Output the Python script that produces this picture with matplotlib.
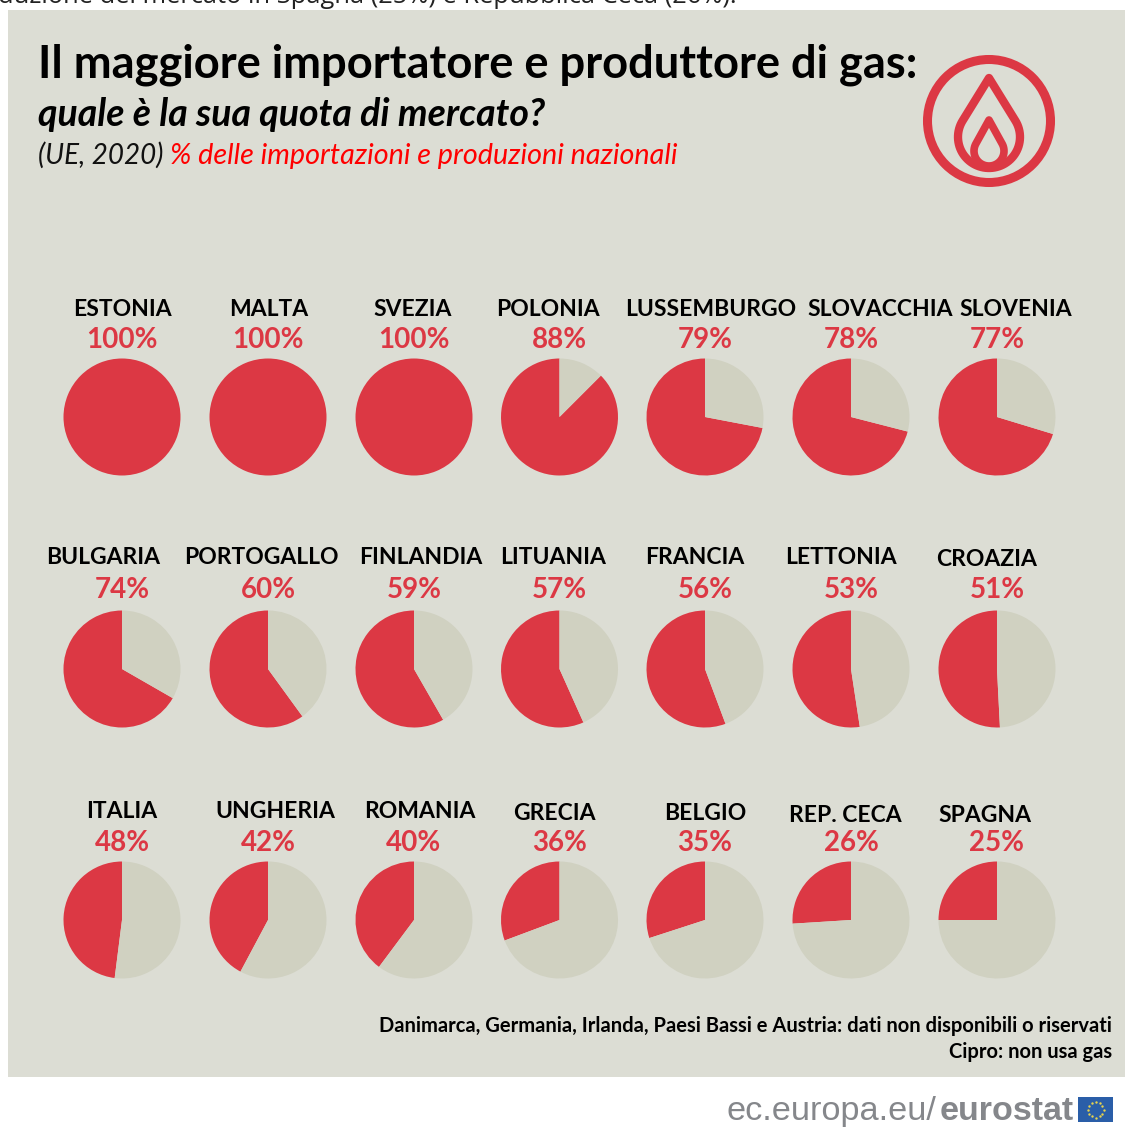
import numpy as np
import matplotlib
matplotlib.use("Agg")
import matplotlib.pyplot as plt
from matplotlib.patches import Rectangle, Circle, Polygon

# country names and the printed percentages, one list per row
names_1 = ["ESTONIA", "MALTA", "SVEZIA", "POLONIA", "LUSSEMBURGO", "SLOVACCHIA", "SLOVENIA"]
names_2 = ["BULGARIA", "PORTOGALLO", "FINLANDIA", "LITUANIA", "FRANCIA", "LETTONIA", "CROAZIA"]
names_3 = ["ITALIA", "UNGHERIA", "ROMANIA", "GRECIA", "BELGIO", "REP. CECA", "SPAGNA"]
printed_1 = [100, 100, 100, 88, 79, 78, 77]
printed_2 = [74, 60, 59, 57, 56, 53, 51]
printed_3 = [48, 42, 40, 36, 35, 26, 25]

# the slices as they are actually drawn differ a bit from the printed numbers
drawn_1 = [100, 100, 100, 87.5, 72, 71, 70.3]
drawn_2 = [66.7, 60, 58.3, 56.7, 55.7, 52.4, 50.8]
drawn_3 = [48, 42.2, 39.8, 30.7, 30, 26, 25]

RED = "#dc3844"
PIE_GREY = "#d0d1c1"
PANEL = "#dcddd4"
W, H = 1125, 1128

# layout, in pixels of the picture
pie_x = [122, 268, 414, 559.5, 705, 851, 997]
pie_y = [417, 669, 920]
name_x = [[122, 269, 413, 548, 711, 880, 1016],
          [103, 261, 421, 553, 695, 841, 987],
          [122, 275, 420, 554, 705, 845, 985]]
name_y = [[310, 309, 309, 309, 309, 309, 309],
          [558, 558, 557, 557, 558, 558, 559],
          [812, 812, 812, 813, 813, 815, 815]]
pct_y = [340, 590, 843]
RADIUS = 58.5

plt.rcParams["font.family"] = ["Lato", "DejaVu Sans"]

fig = plt.figure(figsize=(W / 100, H / 100), dpi=100)
ax = fig.add_axes([0, 0, 1, 1])
ax.add_patch(Rectangle((8, -1077), W - 8, 1067, color=PANEL, lw=0, zorder=0))

rows = zip(pie_y, name_x, name_y, pct_y,
           [names_1, names_2, names_3],
           [printed_1, printed_2, printed_3],
           [drawn_1, drawn_2, drawn_3])
for cy, nxs, nys, py, names, printed, drawn in rows:
    for cx, nx, ny, name, p, d in zip(pie_x, nxs, nys, names, printed, drawn):
        ax.pie([d, 100 - d], center=(cx, -cy), radius=RADIUS, startangle=90,
               colors=[RED, PIE_GREY], normalize=True, frame=True)
        ax.text(nx, -ny, name, ha="center", va="center", fontsize=16.5, fontweight="bold", color="black")
        ax.text(cx, -py, f"{p}%", ha="center", va="center", fontsize=20, fontweight="bold", color=RED)

ax.set_xlim(0, W)
ax.set_ylim(-H, 0)
ax.set_aspect("auto")
ax.axis("off")


def T(x, y, s, **kw):
    return ax.text(x, -y, s, va="baseline", **kw)


# clipped line of body text above the panel
T(-2, 3, "duzione del mercato in Spagna (25%) e Repubblica Ceca (26%).", fontsize=18.4,
  family=["Open Sans", "DejaVu Sans"], color="#222222", clip_on=True)

T(38, 77, "Il maggiore importatore e produttore di gas:", fontsize=32.6, fontweight="bold", color="black")
T(38, 126, "quale è la sua quota di mercato?", fontsize=27, fontweight="bold", style="italic", color="black")
T(38, 164, "(UE, 2020)", fontsize=20, style="italic", color="#111111")
T(170, 164, "% delle importazioni e produzioni nazionali", fontsize=20.7, style="italic", color="#ff0000")

ax.text(1112, -1026, "Danimarca, Germania, Irlanda, Paesi Bassi e Austria: dati non disponibili o riservati",
        ha="right", va="center", fontsize=14.5, fontweight="bold", color="black")
ax.text(1112, -1052, "Cipro: non usa gas", ha="right", va="center", fontsize=14.5, fontweight="bold", color="black")

# gas logo: ring plus two nested drops
ax.add_patch(Circle((989, -121), 61.5, fill=False, ec=RED, lw=6.5))


def drop(tip_y, cy, r):
    a = np.arccos(r / (cy - tip_y))
    t = np.linspace(a, 2 * np.pi - a, 60)
    pts = np.column_stack([989 + r * np.sin(t), -cy + r * np.cos(t)])
    return np.vstack([[989, -tip_y], pts])


ax.add_patch(Polygon(drop(78, 137, 31), closed=True, fill=False, ec=RED, lw=6, joinstyle="round"))
ax.add_patch(Polygon(drop(120, 151, 15), closed=True, fill=False, ec=RED, lw=5.5, joinstyle="round"))

# eurostat signature
GREY_TXT = "#85878b"
T(726, 1120, "ec.europa.eu/", fontsize=24.7, family="Liberation Sans", color=GREY_TXT)
T(940, 1120, "eurostat", fontsize=24.5, family="Liberation Sans", fontweight="bold", color=GREY_TXT)
ax.add_patch(Rectangle((1078, -1122), 35, 25, color="#2a5ea8", lw=0))
star_a = np.arange(12) * np.pi / 6
ax.scatter(1095.5 + 8 * np.cos(star_a), -1109.5 + 8 * np.sin(star_a), s=3, color="#e8d44d", lw=0, zorder=5)

fig.savefig("out.png", dpi=100)
